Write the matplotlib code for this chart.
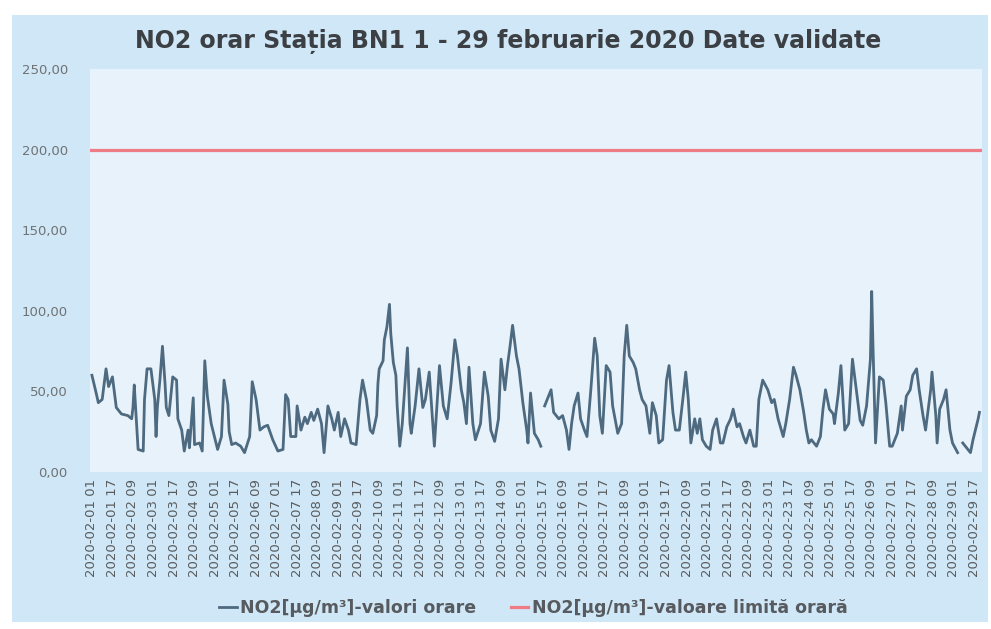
import numpy as np
import pandas as pd
import matplotlib
matplotlib.use("Agg")
from matplotlib import pyplot as plt
from matplotlib.patches import Rectangle

nan = float("nan")

# hours since 2020-02-01 01:00 and NO2 readings (µg/m³)
hours = [0, 3, 5, 8, 11, 13, 16, 19, 21, 23, 28, 31, 32, 33, 34, 36, 40, 41, 43, 46,
         49, 50, 51, 53, 55, 57, 58, 60, 63, 66, 67, 70, 72, 75, 76, 79, 80, 84, 86, 88,
         90, 93, 98, 101, 103, 106, 107, 109, 112, 116, 119, 123, 125, 128, 131, 134, 137, 141, 145, 149,
         151, 153, 155, 159, 160, 163, 166, 168, 171, 173, 176, 179, 181, 184, 187, 189, 192, 194, 197, 200,
         202, 206, 209, 211, 214, 217, 219, 222, 223, 224, 227, 228, 230, 232, 233, 235, 237, 238, 240, 242,
         246, 248, 249, 252, 255, 258, 260, 263, 267, 271, 274, 277, 280, 283, 285, 288, 290, 292, 294, 297,
         299, 303, 306, 309, 311, 314, 317, 319, 322, 324, 326, 328, 331, 333, 336, 339, 340, 342, 345, 348,
         350, 351, 353, 355, 358, 360, 364, 367, 370, 372, 374, 376, 379, 381, 384, 386, 389, 392, 394, 396,
         398, 401, 404, 406, 410, 413, 415, 417, 419, 422, 424, 427, 429, 432, 435, 437, 440, 442, 445, 448,
         450, 453, 455, 458, 461, 463, 465, 467, 470, 472, 474, 476, 479, 482, 484, 487, 490, 492, 495, 498,
         500, 503, 505, 508, 510, 513, 516, 518, 520, 523, 527, 530, 532, 535, 539, 541, 544, 547, 549, 552,
         555, 557, 559, 561, 565, 568, 570, 572, 575, 578, 579, 582, 584, 587, 590, 593, 596, 599, 601, 604,
         607, 608, 609, 611, 614, 617, 619, 622, 624, 628, 631, 632, 635, 638, 640, 643, 645, 648, 650, 654,
         655, 658, 659, 661, 664, 666, 669, 671, 675, 677, 679, 681, 685, 687, 691, 692]
no2 = [60, 50, 43, 45, 64, 53, 59, 40, 38, 36, 35, 33, 40, 54, 41, 14, 13, 45, 64, 64,
       45, 22, 40, 57, 78, 55, 40, 35, 59, 57, 33, 26, 13, 26, 15, 46, 17, 18, 13, 69,
       47, 30, 14, 22, 57, 42, 25, 17, 18, 16, 12, 22, 56, 45, 26, 28, 29, 20, 13, 14,
       48, 45, 22, 22, 41, 26, 34, 30, 37, 32, 39, 30, 12, 41, 33, 26, 37, 22, 33, 26,
       18, 17, 45, 57, 45, 26, 24, 35, 55, 64, 69, 82, 90, 104, 86, 68, 60, 41, 16, 30,
       77, 30, 24, 41, 64, 40, 45, 62, 16, 66, 41, 33, 55, 82, 72, 51, 43, 30, 65, 30,
       20, 30, 62, 47, 26, 19, 33, 70, 51, 66, 78, 91, 72, 64, 43, 26, 18, 49, 24, 20,
       16, nan, 41, 45, 51, 37, 33, 35, 26, 14, 30, 41, 49, 33, 26, 22, 51, 83, 72, 35,
       24, 66, 62, 41, 24, 30, 72, 91, 72, 68, 64, 51, 45, 41, 24, 43, 35, 18, 20, 57,
       66, 37, 26, 26, 47, 62, 45, 18, 33, 24, 33, 20, 16, 14, 26, 33, 18, 18, 28, 33,
       39, 28, 30, 22, 18, 26, 16, 16, 45, 57, 51, 43, 45, 33, 22, 30, 45, 65, 60, 51,
       37, 26, 18, 20, 16, 22, 39, 51, 39, 36, 30, 49, 66, 26, 30, 70, 51, 32, 29, 41,
       70, 112, 78, 18, 59, 57, 43, 16, 16, 24, 41, 26, 47, 51, 60, 64, 51, 35, 26, 51,
       62, 35, 18, 39, 45, 51, 26, 18, 12, nan, 18, 16, 12, 20, 33, 37]
limit_value = 200
yticks = [0, 50, 100, 150, 200, 250]

title = "NO2 orar Stația BN1 1 - 29 februarie 2020 Date validate"
label_no2 = "NO2[µg/m³]-valori orare"
label_limit = "NO2[µg/m³]-valoare limită orară"

tick_hours = list(range(0, 689, 16))
stamps = pd.date_range("2020-02-01 01:00", periods=696, freq="h")
tick_labels = [stamps[h].strftime("%Y-%m-%d %H") for h in tick_hours]

fig = plt.figure(figsize=(9.91, 6.29), dpi=100, facecolor="white")
fig.patches.append(Rectangle((12 / 991, 7 / 629), 976 / 991, 607 / 629,
                             transform=fig.transFigure, facecolor="#cfe7f6",
                             edgecolor="none", zorder=-10))

ax = fig.add_axes([90 / 991, 157 / 629, 892 / 991, 403 / 629])
ax.set_zorder(2)
ax.set_facecolor("#e7f2fa")
ax.plot(hours, no2, color="#4d6a80", lw=2.0, label=label_no2, zorder=3)
ax.axhline(limit_value, color="#ef7b85", lw=2.3, label=label_limit, zorder=2)

ax.set_xlim(-1.5, 694)
ax.set_ylim(0, 250)
ax.set_yticks(yticks)
ax.set_yticklabels([f"{v:.2f}".replace(".", ",") for v in yticks],
                   fontsize=9.5, color="#707274")
ax.set_xticks(tick_hours)
ax.set_xticklabels(tick_labels, rotation=90, fontsize=9.5, color="#5a5c5e")
ax.tick_params(length=0)
ax.tick_params(axis="y", pad=16)
ax.tick_params(axis="x", pad=5)
for s in ax.spines.values():
    s.set_visible(False)

fig.text(508 / 991, 1 - 42 / 629, title, ha="center", va="center", fontsize=17,
         fontweight="bold", color="#3c4044")

leg = ax.legend(loc="center", bbox_to_anchor=(0.497, -(608 - 472) / 403),
                ncol=2, frameon=False, handlelength=1.0, handletextpad=0.2,
                columnspacing=2.0, prop={"size": 12.5, "weight": "bold"})
for t in leg.get_texts():
    t.set_color("#575b5f")

fig.savefig("out.png", dpi=100, facecolor=fig.get_facecolor())
